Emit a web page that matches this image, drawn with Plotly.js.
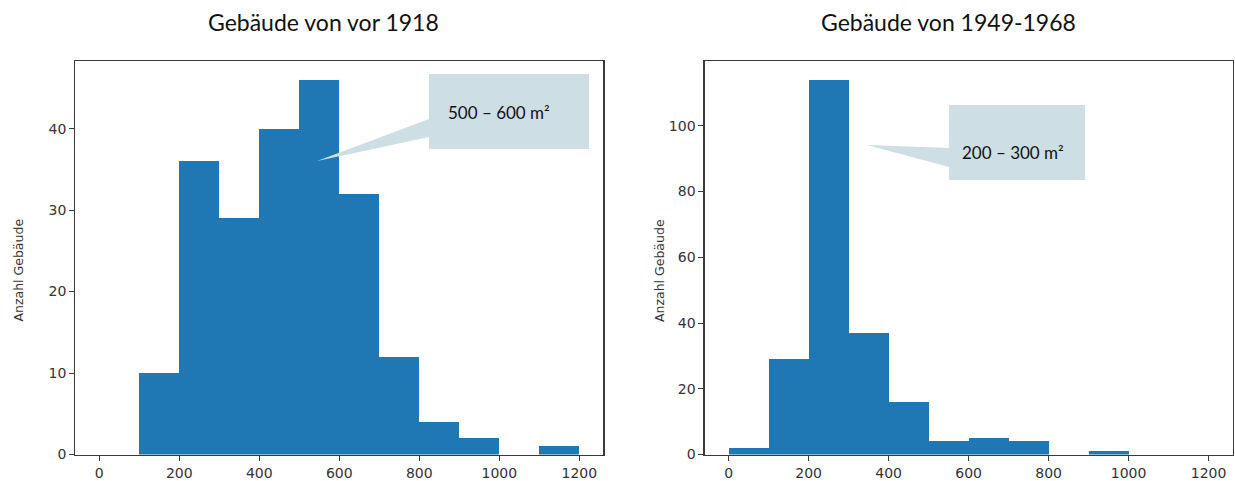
<!DOCTYPE html>
<html>
<head>
<meta charset="utf-8">
<script src="https://cdn.plot.ly/plotly-3.0.1.min.js"></script>
<style>
  html, body { margin: 0; padding: 0; background: #fff; }
  #chart { width: 1235px; height: 481px; }
</style>
</head>
<body>
<div id="chart"></div>
<script>
// ---- Data ----
const binStarts = [0, 100, 200, 300, 400, 500, 600, 700, 800, 900, 1000, 1100];
const binWidth = 100;
const countsVor1918 = [0, 10, 36, 29, 40, 46, 32, 12, 4, 2, 0, 1];
const counts1949to1968 = [2, 29, 114, 37, 16, 4, 5, 4, 0, 1, 0, 0];
const xTickVals = [0, 200, 400, 600, 800, 1000, 1200];
const yTicksLeft = [0, 10, 20, 30, 40];
const yTicksRight = [0, 20, 40, 60, 80, 100];
const titleLeft = "Gebäude von vor 1918";
const titleRight = "Gebäude von 1949-1968";
const yLabel = "Anzahl Gebäude";
const calloutLeft = "500 – 600 m²";
const calloutRight = "200 – 300 m²";

// ---- Layout helpers (pixel -> paper) ----
const W = 1235, H = 481;
const px = x => x / W;
const py = y => 1 - y / H;

const binCenters = binStarts.map(s => s + binWidth / 2);
const barColor = '#1f77b4';

const traces = [
  { type: 'bar', x: binCenters, y: countsVor1918, width: binWidth,
    marker: { color: barColor, line: { width: 0 } },
    xaxis: 'x', yaxis: 'y', hoverinfo: 'skip', showlegend: false },
  { type: 'bar', x: binCenters, y: counts1949to1968, width: binWidth,
    marker: { color: barColor, line: { width: 0 } },
    xaxis: 'x2', yaxis: 'y2', hoverinfo: 'skip', showlegend: false }
];

const mplFont = '"DejaVu Sans", Verdana, sans-serif';
const tickFont = { family: mplFont, size: 14, color: '#333' };
const axisCommon = {
  showgrid: false, zeroline: false, showline: true, mirror: true,
  linecolor: '#3a3a3a', linewidth: 1.2,
  ticks: 'outside', ticklen: 5, tickwidth: 1, tickcolor: '#3a3a3a',
  tickfont: tickFont, fixedrange: true
};

const yDomain = [py(454.5), py(61)];
const titleFont = { family: 'Lato', size: 23, color: '#111' };
const calloutFont = { family: 'Lato', size: 17, color: '#111' };
const yLabelFont = { family: mplFont, size: 12.5, color: '#333' };

const layout = {
  width: W, height: H,
  margin: { l: 0, r: 0, t: 0, b: 0 },
  paper_bgcolor: '#fff', plot_bgcolor: '#fff',
  bargap: 0,
  xaxis: Object.assign({}, axisCommon, {
    domain: [px(75.3), px(603.3)], range: [-60, 1260],
    tickmode: 'array', tickvals: xTickVals, anchor: 'y'
  }),
  yaxis: Object.assign({}, axisCommon, {
    domain: yDomain, range: [0, 48.3],
    tickmode: 'array', tickvals: yTicksLeft, anchor: 'x'
  }),
  xaxis2: Object.assign({}, axisCommon, {
    domain: [px(704.6), px(1232.6)], range: [-60, 1260],
    tickmode: 'array', tickvals: xTickVals, anchor: 'y2'
  }),
  yaxis2: Object.assign({}, axisCommon, {
    domain: yDomain, range: [0, 119.7],
    tickmode: 'array', tickvals: yTicksRight, anchor: 'x2'
  }),
  shapes: [
    { type: 'path', xref: 'paper', yref: 'paper', layer: 'above',
      path: `M ${px(429)} ${py(74)} L ${px(589)} ${py(74)} L ${px(589)} ${py(149)} L ${px(429)} ${py(149)} L ${px(429)} ${py(137)} L ${px(317)} ${py(161)} L ${px(429)} ${py(119)} Z`,
      fillcolor: '#cddee5', line: { width: 0 } },
    { type: 'path', xref: 'paper', yref: 'paper', layer: 'above',
      path: `M ${px(949)} ${py(105)} L ${px(1085)} ${py(105)} L ${px(1085)} ${py(180)} L ${px(949)} ${py(180)} L ${px(949)} ${py(167)} L ${px(867)} ${py(145)} L ${px(949)} ${py(148)} Z`,
      fillcolor: '#cddee5', line: { width: 0 } }
  ],
  annotations: [
    { text: titleLeft, xref: 'paper', yref: 'paper', x: px(323.5), y: py(22),
      xanchor: 'center', yanchor: 'middle', showarrow: false, font: titleFont },
    { text: titleRight, xref: 'paper', yref: 'paper', x: px(949), y: py(22),
      xanchor: 'center', yanchor: 'middle', showarrow: false, font: titleFont },
    { text: yLabel, xref: 'paper', yref: 'paper', x: px(17.5), y: py(270),
      xanchor: 'center', yanchor: 'middle', showarrow: false, textangle: -90,
      font: yLabelFont },
    { text: yLabel, xref: 'paper', yref: 'paper', x: px(659), y: py(270),
      xanchor: 'center', yanchor: 'middle', showarrow: false, textangle: -90,
      font: yLabelFont },
    { text: calloutLeft, xref: 'paper', yref: 'paper', x: px(446), y: py(113),
      xanchor: 'left', yanchor: 'middle', showarrow: false, font: calloutFont },
    { text: calloutRight, xref: 'paper', yref: 'paper', x: px(960), y: py(153),
      xanchor: 'left', yanchor: 'middle', showarrow: false, font: calloutFont }
  ]
};

Plotly.newPlot('chart', traces, layout, { displayModeBar: false, staticPlot: true });
</script>
</body>
</html>
